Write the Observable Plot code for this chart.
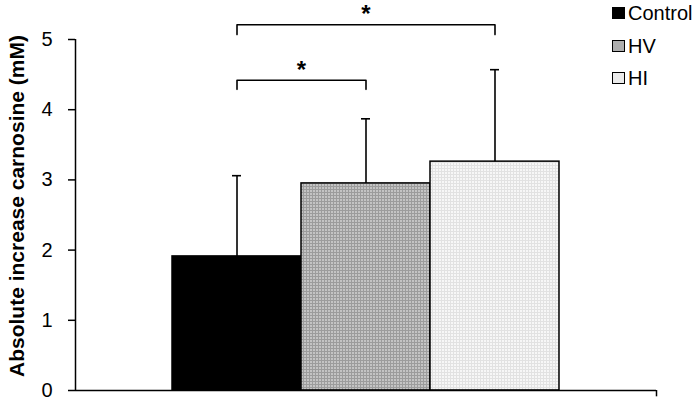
<!DOCTYPE html>
<html><head><meta charset="utf-8">
<script src="https://cdn.jsdelivr.net/npm/d3@7"></script>
<script src="https://cdn.jsdelivr.net/npm/@observablehq/plot@0.6"></script>
<style>
body{margin:0;background:#fff;font-family:"Liberation Sans",Arial,sans-serif;}
#wrap{position:relative;width:694px;height:402px;}
#legend{position:absolute;left:612px;top:0;}
.item{position:absolute;left:0;display:flex;align-items:center;white-space:nowrap;font-size:20px;line-height:20px;color:#000;}
.sw{box-sizing:border-box;width:13px;height:12px;border:1.5px solid #000;margin-right:3px;}
</style></head><body>
<div id="wrap"><div id="legend"></div></div>
<script>
const categories = ["Control", "HV", "HI"];
const means = [1.91, 2.95, 3.26];
const sds = [1.15, 0.92, 1.31];
const yTicks = [0, 1, 2, 3, 4, 5];
const yLabel = "Absolute increase carnosine (mM)";
const compFrom = ["Control", "Control"];
const compTo = ["HV", "HI"];
const compLevel = [4.42, 5.21];
const compDrop = [0.13, 0.14];
const compLabel = ["*", "*"];

const fills = ["#000000", "url(#patHV)", "url(#patHI)"];
const swatchFills = ["#000000", "#aeaeae", "#ebebeb"];

const idx = c => categories.indexOf(c);
const bars = categories.map((c, i) => ({group: c, i, mean: means[i], top: means[i] + sds[i]}));
const brackets = compFrom.flatMap((f, k) => [
  {k, x: idx(f), y: compLevel[k] - compDrop[k]},
  {k, x: idx(f), y: compLevel[k]},
  {k, x: idx(compTo[k]), y: compLevel[k]},
  {k, x: idx(compTo[k]), y: compLevel[k] - compDrop[k]}
]);
const stars = compFrom.map((f, k) => ({x: (idx(f) + idx(compTo[k])) / 2, y: compLevel[k], t: compLabel[k]}));

const pad = 0.752;
const xDomain = [-0.5 - pad, categories.length - 0.5 + pad];
const capHalf = 0.035;

const chart = Plot.plot({
  width: 694,
  height: 402,
  marginTop: 39,
  marginBottom: 12,
  marginLeft: 75,
  marginRight: 38,
  style: {fontFamily: "'Liberation Sans', Arial, sans-serif", fontSize: "20px", color: "#000", background: "#fff"},
  x: {domain: xDomain, axis: null},
  y: {domain: [0, 5]},
  color: {domain: categories, range: fills},
  marks: [
    Plot.rectY(bars, {x1: d => d.i - 0.5, x2: d => d.i + 0.5, y: "mean", fill: "group", stroke: "#000", strokeWidth: 1.5}),
    Plot.ruleX(bars, {x: "i", y1: "mean", y2: "top", stroke: "#000", strokeWidth: 1.6}),
    Plot.ruleY(bars, {y: "top", x1: d => d.i - capHalf, x2: d => d.i + capHalf, stroke: "#000", strokeWidth: 1.6}),
    Plot.line(brackets, {x: "x", y: "y", z: "k", stroke: "#000", strokeWidth: 1.6, strokeLinejoin: "round"}),
    Plot.text(stars, {x: "x", y: "y", text: "t", fontSize: 24, fontWeight: "bold", fill: "#000", dy: -10}),
    Plot.ruleY([0], {stroke: "#000", strokeWidth: 1.5}),
    Plot.ruleX([xDomain[0]], {y1: 0, y2: 5, stroke: "#000", strokeWidth: 1.5}),
    Plot.ruleX([xDomain[1]], {y1: 0, y2: -0.09, stroke: "#000", strokeWidth: 1.5}),
    Plot.axisY({ticks: yTicks, tickFormat: "d", tickSize: 7, tickPadding: 16, fontSize: 20, label: null, strokeWidth: 1.5}),
    Plot.text([yLabel], {frameAnchor: "left", textAnchor: "middle", text: d => d, rotate: -90, dx: -58, dy: -9, fontSize: 21, fontWeight: "bold"})
  ]
});

const defs = d3.select(chart).insert("defs", ":first-child");
function pattern(id, base, line) {
  const p = defs.append("pattern").attr("id", id).attr("patternUnits", "userSpaceOnUse").attr("width", 3).attr("height", 3);
  p.append("rect").attr("width", 3).attr("height", 3).attr("fill", base);
  p.append("rect").attr("width", 3).attr("height", 1).attr("fill", line);
  p.append("rect").attr("width", 1).attr("height", 3).attr("fill", line);
}
pattern("patHV", "#c4c4c4", "#9c9c9c");
pattern("patHI", "#f7f7f7", "#e2e2e2");

document.getElementById("wrap").prepend(chart);

const legend = document.getElementById("legend");
categories.forEach((c, i) => {
  const item = document.createElement("div");
  item.className = "item";
  item.style.top = (3 + i * 32.5) + "px";
  const sw = document.createElement("div");
  sw.className = "sw";
  sw.style.background = swatchFills[i];
  const tx = document.createElement("span");
  tx.textContent = c;
  item.append(sw, tx);
  legend.append(item);
});
</script>
</body></html>
